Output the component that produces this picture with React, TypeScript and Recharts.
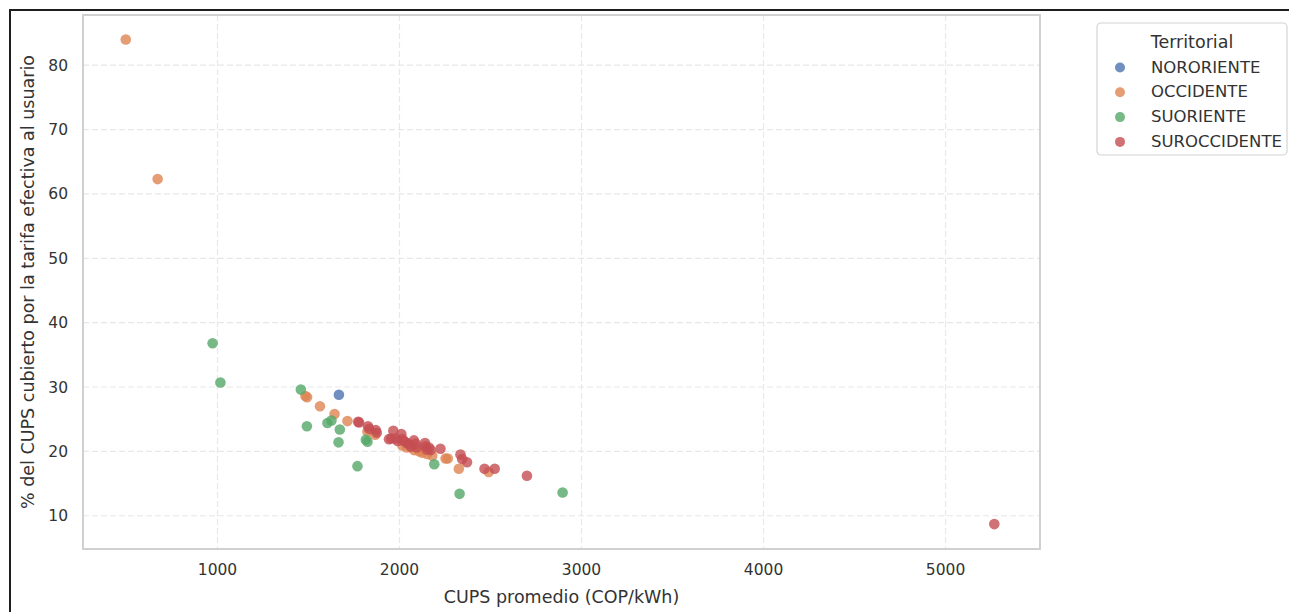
import React from 'react';
import { ScatterChart, Scatter, XAxis, YAxis, CartesianGrid, ReferenceArea } from 'recharts';

// Puntos (CUPS promedio COP/kWh, % cubierto por la tarifa) por territorial
const nororiente = [{ cups: 1667, pct: 28.8 }];

const occidente = [
  { cups: 496, pct: 84.0 }, { cups: 671, pct: 62.3 }, { cups: 1483, pct: 28.6 },
  { cups: 1492, pct: 28.4 }, { cups: 1563, pct: 27.0 }, { cups: 1643, pct: 25.8 },
  { cups: 1714, pct: 24.7 }, { cups: 1824, pct: 23.1 }, { cups: 1866, pct: 22.6 },
  { cups: 2016, pct: 20.9 }, { cups: 2040, pct: 20.6 }, { cups: 2080, pct: 20.2 },
  { cups: 2107, pct: 20.0 }, { cups: 2125, pct: 19.8 }, { cups: 2152, pct: 19.6 },
  { cups: 2180, pct: 19.3 }, { cups: 2253, pct: 18.9 }, { cups: 2265, pct: 18.9 },
  { cups: 2326, pct: 17.3 }, { cups: 2490, pct: 16.8 },
];

const suoriente = [
  { cups: 973, pct: 36.8 }, { cups: 1016, pct: 30.7 }, { cups: 1458, pct: 29.6 },
  { cups: 1491, pct: 23.9 }, { cups: 1604, pct: 24.4 }, { cups: 1626, pct: 24.8 },
  { cups: 1672, pct: 23.4 }, { cups: 1665, pct: 21.4 }, { cups: 1769, pct: 17.7 },
  { cups: 1815, pct: 21.8 }, { cups: 1824, pct: 21.5 }, { cups: 2191, pct: 18.0 },
  { cups: 2330, pct: 13.4 }, { cups: 2896, pct: 13.6 },
];

const suroccidente = [
  { cups: 1773, pct: 24.6 }, { cups: 1778, pct: 24.5 }, { cups: 1827, pct: 23.9 },
  { cups: 1833, pct: 23.5 }, { cups: 1870, pct: 23.3 }, { cups: 1875, pct: 22.9 },
  { cups: 1942, pct: 21.9 }, { cups: 1955, pct: 22.0 }, { cups: 1966, pct: 23.2 },
  { cups: 1979, pct: 22.0 }, { cups: 1990, pct: 21.6 }, { cups: 2010, pct: 22.7 },
  { cups: 2016, pct: 21.9 }, { cups: 2025, pct: 21.6 }, { cups: 2040, pct: 21.3 },
  { cups: 2055, pct: 21.1 }, { cups: 2062, pct: 20.7 }, { cups: 2079, pct: 21.7 },
  { cups: 2089, pct: 21.2 }, { cups: 2095, pct: 20.6 }, { cups: 2140, pct: 21.3 },
  { cups: 2143, pct: 20.8 }, { cups: 2150, pct: 20.3 }, { cups: 2162, pct: 20.6 },
  { cups: 2171, pct: 20.2 }, { cups: 2225, pct: 20.4 }, { cups: 2335, pct: 19.5 },
  { cups: 2344, pct: 18.8 }, { cups: 2371, pct: 18.3 }, { cups: 2467, pct: 17.3 },
  { cups: 2523, pct: 17.3 }, { cups: 2700, pct: 16.2 }, { cups: 5268, pct: 8.7 },
];

const territorios = ['NORORIENTE', 'OCCIDENTE', 'SUORIENTE', 'SUROCCIDENTE'];
const colores = ['#4C72B0', '#DD8452', '#55A868', '#C44E52'];
const series = [nororiente, occidente, suoriente, suroccidente];

const xTicks = [1000, 2000, 3000, 4000, 5000];
const yTicks = [10, 20, 30, 40, 50, 60, 70, 80];
const xDomain = [261, 5519];
const yDomain = [4.83, 87.8];

const FONT = 'DejaVu Sans, sans-serif';
const TEXT = '#333333';

const dot = (color: string) => (props: any) => (
  <circle cx={props.cx} cy={props.cy} r={5.3} fill={color} fillOpacity={0.8} />
);

const Leyenda = () => (
  <svg width={194} height={136} style={{ position: 'absolute', left: 1095, top: 21 }}>
    <rect x={2} y={2} width={190} height={132} rx={4} fill="#ffffff" stroke="#d4d4d4" strokeWidth={1.2} />
    <text x={97} y={26.5} textAnchor="middle" fontSize={17.5} fontFamily={FONT} fill={TEXT}>
      Territorial
    </text>
    {territorios.map((t, i) => (
      <g key={t}>
        <circle cx={25} cy={46.5 + i * 24.8} r={5} fill={colores[i]} fillOpacity={0.8} />
        <text x={56} y={51.5 + i * 24.8} fontSize={16.5} fontFamily={FONT} fill={TEXT}>
          {t}
        </text>
      </g>
    ))}
  </svg>
);

export default function App() {
  return (
    <div style={{ position: 'absolute', left: 0, top: 0, width: 1289, height: 612, background: '#fff' }}>
      <div
        style={{
          position: 'absolute', left: 9, top: 9, right: 0, bottom: 0,
          borderTop: '2px solid #1e1e1e', borderLeft: '2px solid #1e1e1e',
        }}
      />
      <div style={{ position: 'absolute', left: 0, top: 0 }}>
        <ScatterChart width={1289} height={612} margin={{ top: 15, right: 249, bottom: 0, left: 0 }}>
          <CartesianGrid stroke="#e8e8e8" strokeWidth={1.2} strokeDasharray="6 3" />
          <XAxis
            type="number"
            dataKey="cups"
            domain={xDomain}
            ticks={xTicks}
            height={63}
            tickLine={false}
            axisLine={false}
            tickSize={0}
            tickMargin={15}
            tick={{ fontSize: 15.5, fill: TEXT, fontFamily: FONT }}
            label={{
              value: 'CUPS promedio (COP/kWh)', position: 'insideBottom', offset: 9,
              style: { fontSize: 17.5, fill: TEXT, fontFamily: FONT },
            }}
          />
          <YAxis
            type="number"
            dataKey="pct"
            domain={yDomain}
            ticks={yTicks}
            width={83}
            tickLine={false}
            axisLine={false}
            tickSize={0}
            tickMargin={15}
            tick={{ fontSize: 15.5, fill: TEXT, fontFamily: FONT }}
            label={{
              value: '% del CUPS cubierto por la tarifa efectiva al usuario', angle: -90,
              position: 'insideLeft', offset: 28,
              style: { textAnchor: 'middle', fontSize: 17.5, fill: TEXT, fontFamily: FONT },
            }}
          />
          <ReferenceArea
            x1={xDomain[0]} x2={xDomain[1]} y1={yDomain[0]} y2={yDomain[1]}
            fill="none" stroke="#d0d0d0" strokeWidth={2} fillOpacity={0}
          />
          {series.map((data, i) => (
            <Scatter
              key={territorios[i]}
              name={territorios[i]}
              data={data}
              fill={colores[i]}
              shape={dot(colores[i])}
              isAnimationActive={false}
            />
          ))}
        </ScatterChart>
      </div>
      <Leyenda />
    </div>
  );
}
